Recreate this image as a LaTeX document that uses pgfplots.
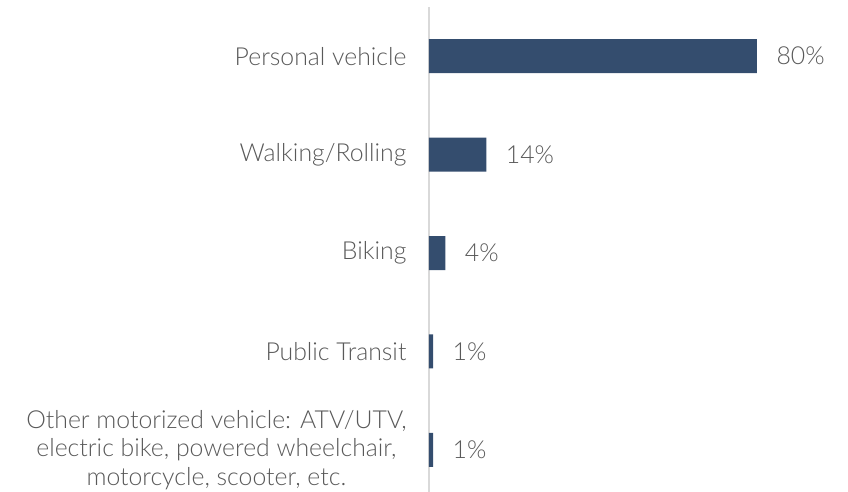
\documentclass[border=0pt]{standalone}
\usepackage{pgfplots}
\pgfplotsset{compat=1.18}
\usepackage{fontspec}
\setmainfont{Lato Light}
\definecolor{barc}{HTML}{344D6E}
\definecolor{txt}{HTML}{595959}
\definecolor{axc}{HTML}{D9D9D9}
\begin{document}
\begin{tikzpicture}
\path[use as bounding box] (-429pt,8pt) rectangle (419pt,499pt);
\begin{axis}[
  at={(0,0)}, anchor=south west,
  scale only axis, width=410pt, height=492pt,
  xbar, bar width=34pt, bar shift=0pt,
  xmin=0, xmax=100, ymin=-0.5, ymax=4.5,
  y dir=reverse,
  clip=false,
  ytick={0,1,2,3,4},
  yticklabels={Personal vehicle, Walking/Rolling, Biking, Public Transit, {Other motorized vehicle: ATV/UTV,\\electric bike, powered wheelchair,\\motorcycle, scooter, etc.}},
  yticklabel style={align=center, font=\fontsize{24.8}{28.5}\selectfont, text=txt, xshift=-19pt},
  major tick length=0pt,
  xtick=\empty,
  separate axis lines,
  x axis line style={draw=none},
  y axis line style={draw=axc, line width=1.5pt},
  hide x axis,
  axis y line*=left,
  nodes near coords={\pgfmathprintnumber{\pgfplotspointmeta}\%},
  nodes near coords style={font=\fontsize{24.8}{28.5}\selectfont, text=txt, anchor=west, xshift=16pt, /pgf/number format/assume math mode=true},
]
\addplot[fill=barc, draw=none] coordinates {(80,0) (14,1) (4,2) (1,3) (1,4)};
\end{axis}
\end{tikzpicture}
\end{document}
